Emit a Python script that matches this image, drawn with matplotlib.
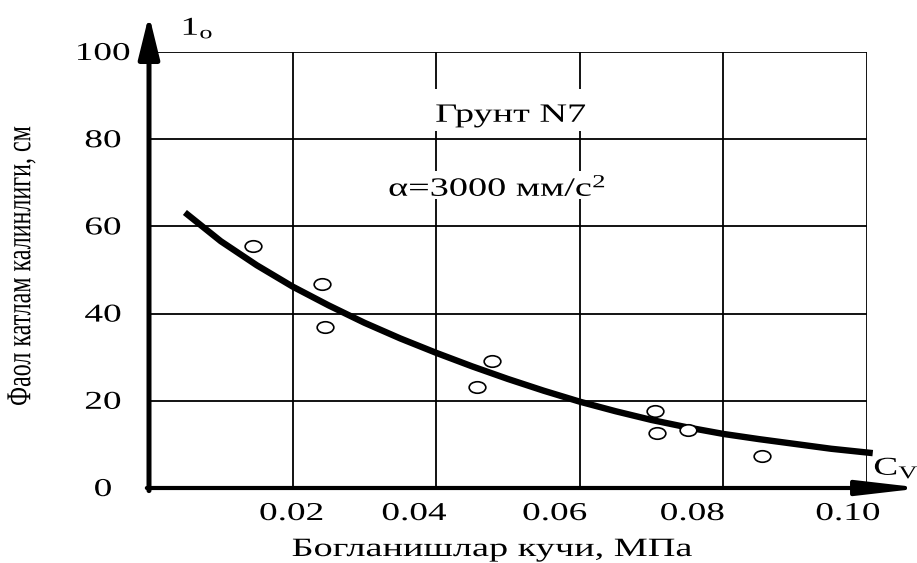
import numpy as np
import matplotlib
matplotlib.use("Agg")
import matplotlib.pyplot as plt
from matplotlib.patheffects import AbstractPathEffect
from matplotlib.transforms import Affine2D
from matplotlib.path import Path
from matplotlib.patches import Rectangle

# ---------------- data ----------------
pts_x = [0.0145, 0.0241, 0.0245, 0.0457, 0.0478, 0.0705, 0.0707, 0.0751, 0.0854]
pts_y = [55.6, 46.7, 37.0, 23.2, 29.2, 17.7, 12.6, 13.3, 7.4]

curve_x = [0.005, 0.010, 0.015, 0.020, 0.025, 0.030, 0.035, 0.040, 0.045,
           0.050, 0.055, 0.060, 0.065, 0.070, 0.075, 0.080, 0.085, 0.090,
           0.095, 0.1008]
curve_y = [63.2, 56.6, 51.1, 46.2, 41.9, 37.9, 34.3, 31.0, 27.9,
           25.0, 22.3, 19.8, 17.6, 15.6, 13.9, 12.4, 11.2, 10.1,
           9.0, 8.0]

x_ticks = [0.02, 0.04, 0.06, 0.08, 0.10]
x_ticklabels = ["0.02", "0.04", "0.06", "0.08", "0.10"]
y_ticks = [0, 20, 40, 60, 80, 100]
y_ticklabels = ["0", "20", "40", "60", "80", "100"]

x_title = "Богланишлар кучи, МПа"
y_title = "Фаол катлам калинлиги, см"
note1 = "Грунт N7"
note2 = "α=3000 мм/с$^{2}$"

# ---------------- style ----------------
plt.rcParams['font.family'] = ['Liberation Serif', 'DejaVu Serif']
plt.rcParams['mathtext.fontset'] = 'custom'
plt.rcParams['mathtext.rm'] = 'Liberation Serif'
plt.rcParams['mathtext.it'] = 'Liberation Serif:italic'
plt.rcParams['mathtext.bf'] = 'Liberation Serif:bold'

SX = 1.45


class HStretch(AbstractPathEffect):
    """Stretch rendered text horizontally about its centre."""
    def __init__(self, sx=SX):
        super().__init__()
        self.sx = sx

    def draw_path(self, renderer, gc, tpath, affine, rgbFace=None):
        ext = tpath.get_extents(affine)
        cx = 0.5 * (ext.x0 + ext.x1)
        t = affine + Affine2D().translate(-cx, 0).scale(self.sx, 1).translate(cx, 0)
        renderer.draw_path(gc, tpath, t, rgbFace)


PE = [HStretch()]

W, H = 917, 563
fig = plt.figure(figsize=(W / 100, H / 100), dpi=100)
L, R, T, B = 149, 867, 52, 488
ax = fig.add_axes([L / W, 1 - B / H, (R - L) / W, (B - T) / H])
ax.set_xlim(0, 0.10)
ax.set_ylim(0, 100)
for s in ax.spines.values():
    s.set_visible(False)
ax.set_xticks(x_ticks)
ax.set_yticks(y_ticks[1:])
ax.tick_params(length=0, labelbottom=False, labelleft=False)
ax.grid(True, color='black', lw=1.3)
ax.set_axisbelow(True)

# white masks behind notes
ax.add_patch(Rectangle((0.0394, 81.8), 0.0221, 9.6, facecolor='white',
                       edgecolor='none', zorder=1.5))
ax.add_patch(Rectangle((0.0318, 66.2), 0.0334, 6.4, facecolor='white',
                       edgecolor='none', zorder=1.5))

# axes with arrows
ax.annotate('', xy=(0, 108.5), xytext=(0, -0.6), annotation_clip=False,
            arrowprops=dict(arrowstyle='-|>,head_length=1.3,head_width=0.32',
                            mutation_scale=20, lw=3.6, color='black',
                            shrinkA=0, shrinkB=0), zorder=5)
ax.annotate('', xy=(0.1078, 0), xytext=(-0.0003, 0), annotation_clip=False,
            arrowprops=dict(arrowstyle='-|>,head_length=1.9,head_width=0.22',
                            mutation_scale=20, lw=3.0, color='black',
                            shrinkA=0, shrinkB=0), zorder=5)

# fitted curve
ax.plot(curve_x, curve_y, color='black', lw=4.6, solid_capstyle='butt',
        solid_joinstyle='round', zorder=4, clip_on=False)

# measured points (ellipse markers like the stretched original)
circ = Path.unit_circle()
ell = Path(Affine2D().scale(1.45, 1.0).transform(circ.vertices), circ.codes)
ax.plot(pts_x, pts_y, linestyle='none', marker=ell, markersize=12,
        markerfacecolor='white', markeredgecolor='black', markeredgewidth=1.2,
        zorder=6)

# tick labels
x_dx = [-1, -22, -25, -31, -19]
for v, lab, dx in zip(x_ticks, x_ticklabels, x_dx):
    ax.annotate(lab, xy=(v, 0), xytext=(dx, -32), textcoords='offset pixels',
                ha='center', va='baseline', fontsize=18.5, path_effects=PE,
                annotation_clip=False)
for v, lab in zip(y_ticks, y_ticklabels):
    ax.annotate(lab, xy=(0, v), xytext=(-46, -8), textcoords='offset pixels',
                ha='center', va='baseline', fontsize=18.5, path_effects=PE,
                annotation_clip=False)

# axis names
fig.text(492 / W, 1 - 556 / H, x_title, ha='center', va='baseline',
         fontsize=19, path_effects=PE)
fig.text(22 / W, 1 - 266 / H, y_title, ha='center', va='center',
         rotation=90, fontsize=17.3, path_effects=PE)

# axis symbols
ax.text(0.00675, 103.9, r'$\mathregular{1_o}$', ha='center', va='baseline',
        fontsize=18.5, path_effects=PE, clip_on=False)
ax.text(0.1041, 3.0, r'$\mathregular{C_V}$', ha='center', va='baseline',
        fontsize=18.5, path_effects=PE, clip_on=False)

# notes
ax.text(0.0504, 84.0, note1, ha='center', va='baseline', fontsize=19,
        path_effects=PE, zorder=7)
ax.text(0.0485, 67.0, note2, ha='center', va='baseline', fontsize=19,
        path_effects=PE, zorder=7)

fig.savefig('out.png', dpi=100, facecolor='white')
